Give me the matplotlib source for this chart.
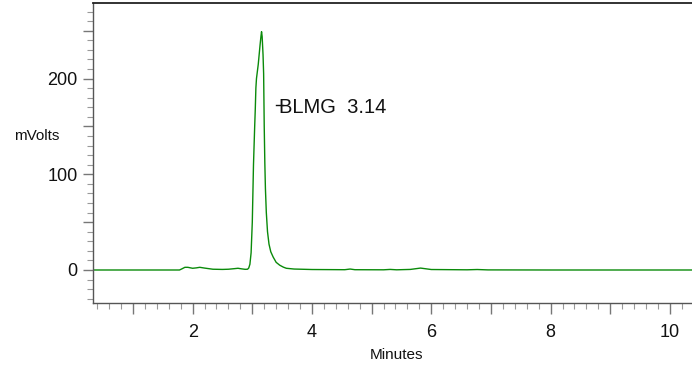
import matplotlib
matplotlib.use("Agg")
import matplotlib.pyplot as plt
from matplotlib.ticker import MultipleLocator, FuncFormatter

plt.rcParams['font.family'] = ['Liberation Sans', 'DejaVu Sans']

# Chromatogram trace: time (min), signal (mV)
time_min = [0.33, 1.00, 1.78, 1.82, 1.87, 1.92, 2.00, 2.06, 2.12, 2.20, 2.34, 2.50, 2.60,
            2.70, 2.76, 2.82, 2.88, 2.92, 2.94, 2.96, 2.98, 3.00, 3.02, 3.04, 3.05, 3.06,
            3.07, 3.10, 3.13, 3.145, 3.155, 3.165, 3.18, 3.19, 3.20, 3.21, 3.22, 3.235,
            3.255, 3.28, 3.31, 3.35, 3.40, 3.46, 3.52, 3.57, 3.70, 4.00, 4.55, 4.64, 4.72,
            5.20, 5.31, 5.42, 5.65, 5.82, 6.00, 6.60, 6.77, 6.95, 8.00, 10.40]
signal_mv = [0.0, 0.0, 0.0, 1.2, 2.8, 2.8, 1.8, 2.2, 2.8, 2.0, 0.8, 0.6, 0.8,
             1.4, 1.8, 1.2, 0.7, 0.8, 2.0, 6.0, 18.0, 50.0, 110.0, 150.0, 168.0, 190.0,
             200.0, 215.0, 235.0, 244.0, 249.0, 244.0, 225.0, 205.0, 150.0, 112.0, 85.0, 60.0,
             40.0, 27.0, 19.0, 13.5, 8.0, 5.0, 3.0, 1.8, 1.0, 0.5, 0.3, 1.0, 0.3,
             0.2, 0.6, 0.2, 0.6, 2.0, 0.5, 0.2, 0.5, 0.1, 0.0, 0.0]

peak_name = "BLMG"
peak_rt = "3.14"
label_x, label_y = 3.45, 164.0

x_limits = (0.33, 10.37)
y_limits = (-34.8, 279.3)
x_tick_labels = [2, 4, 6, 8, 10]
y_tick_labels = [0, 100, 200]

fig = plt.figure(figsize=(6.92, 3.65), dpi=100)
ax = fig.add_axes([93/692, 1 - 303.3/365, 1 - 93/692, (303.3 - 2.7)/365])

ax.plot(time_min, signal_mv, color='#0a8a0a', lw=1.0)

ax.set_xlim(*x_limits)
ax.set_ylim(*y_limits)

ax.spines['right'].set_visible(False)
ax.spines['top'].set_color('#222222')
ax.spines['top'].set_linewidth(1.3)
ax.spines['left'].set_color('#555555')
ax.spines['bottom'].set_color('#555555')
ax.spines['left'].set_linewidth(1.0)
ax.spines['bottom'].set_linewidth(1.0)

ax.xaxis.set_major_locator(MultipleLocator(1))
ax.xaxis.set_minor_locator(MultipleLocator(0.2))
ax.yaxis.set_major_locator(MultipleLocator(50))
ax.yaxis.set_minor_locator(MultipleLocator(10))

ax.xaxis.set_major_formatter(FuncFormatter(
    lambda v, p: f"{int(round(v))}" if int(round(v)) in x_tick_labels else ""))
ax.yaxis.set_major_formatter(FuncFormatter(
    lambda v, p: f"{int(round(v))}" if int(round(v)) in y_tick_labels else ""))

ax.tick_params(axis='x', which='major', direction='out', length=8, width=1.0,
               colors='#777777', labelcolor='#111111', labelsize=13, pad=7)
ax.tick_params(axis='x', which='minor', direction='out', length=4, width=0.8,
               colors='#999999')
ax.tick_params(axis='y', which='major', direction='out', length=7, width=1.0,
               colors='#777777', labelcolor='#111111', labelsize=13, pad=4)
ax.tick_params(axis='y', which='minor', direction='out', length=4, width=0.8,
               colors='#999999')

# Darker ticks on labelled positions
for t in ax.xaxis.get_major_ticks():
    if int(round(t.get_loc())) in x_tick_labels:
        t.tick1line.set_color('#333333')
for t in ax.yaxis.get_major_ticks():
    if int(round(t.get_loc())) in y_tick_labels:
        t.tick1line.set_color('#333333')

# Peak label with its small marker dash
ax.text(label_x, label_y, f"{peak_name}  {peak_rt}", fontsize=14.5,
        color='#111111', ha='left', va='baseline')
ax.plot([label_x - 0.045, label_x + 0.07], [label_y + 8.5, label_y + 8.5],
        color='#111111', lw=1.0)

fig.text(37/692, 1 - 140/365, "mVolts", fontsize=11, ha='center', va='baseline',
         color='#111111')
fig.text(396.5/692, 1 - 359/365, "Minutes", fontsize=11, ha='center', va='baseline',
         color='#111111')

fig.savefig("out.png", dpi=100)
